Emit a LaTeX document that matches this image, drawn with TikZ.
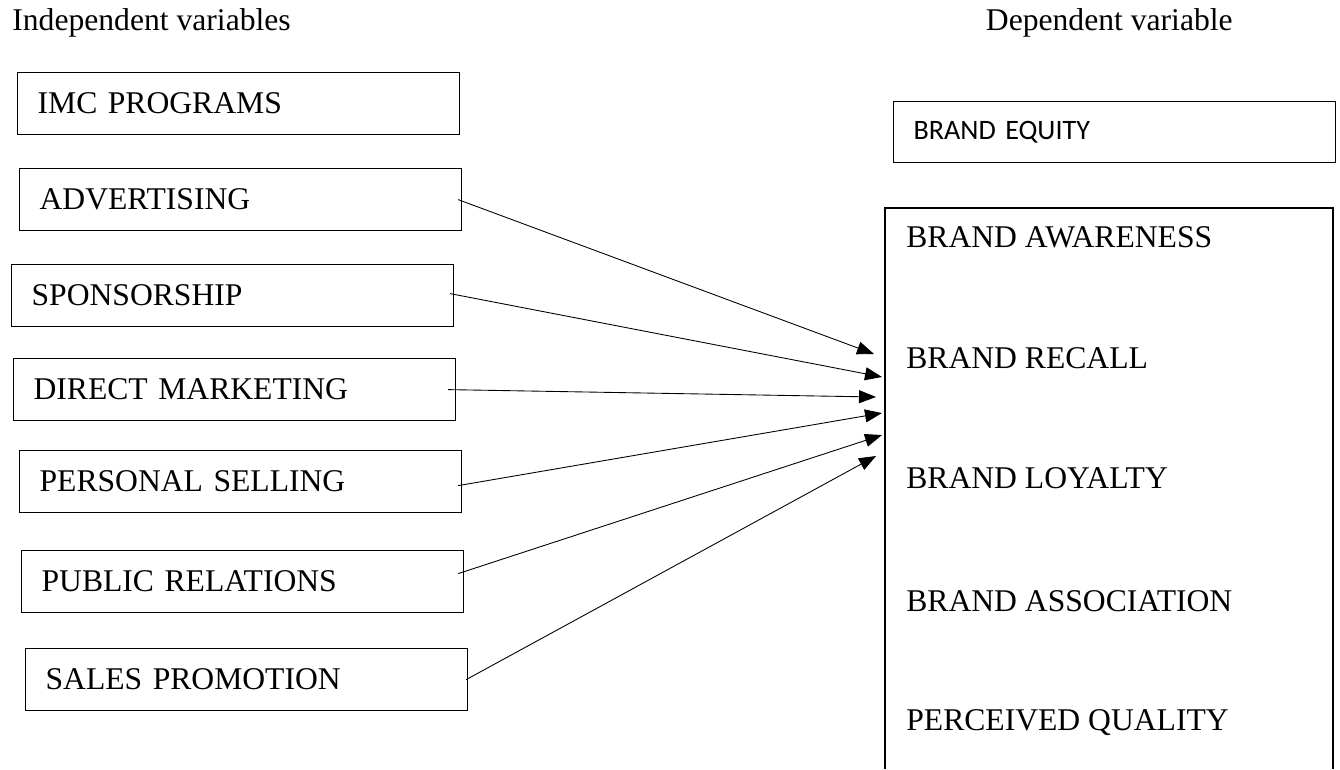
\documentclass[tikz,border=0pt]{standalone}
\usepackage{fontspec}
\setmainfont{Liberation Serif}
\newfontfamily\calibrilike{Carlito}
\usetikzlibrary{arrows.meta}

\tikzset{
  ivbox/.style={draw, line width=0.7pt, anchor=north west,
    minimum width=8.84cm, minimum height=1.24cm,
    text width=8.04cm, inner xsep=0.4cm, align=left,
    font=\fontsize{18}{21}\selectfont},
  dvitem/.style={anchor=base west, inner sep=0pt,
    font=\fontsize{18}{21}\selectfont},
  link/.style={line width=0.5pt, -{Triangle[length=3.4mm,width=2.6mm]}}
}

\begin{document}
\begin{tikzpicture}[x=0.02cm,y=-0.02cm]
\useasboundingbox (0,0) rectangle (1340,769);
%%%%%%%%%%%%%%%%%%%%%%%%%%%%%%%%
%% headings
%%%%%%%%%%%%%%%%%%%%%%%%%%%%%%%%
\node[dvitem] (indep) at (12,30) {Independent variables};
\node[dvitem, anchor=base east] (dep) at (1233,30) {Dependent variable};
%
%%%%%%%%%%%%%%%%%%%%%%%%%%%%%%%%
%% independent variables
%%%%%%%%%%%%%%%%%%%%%%%%%%%%%%%%
\node[ivbox] (imc) at (17,72)  {IMC PROGRAMS};
\node[ivbox] (adv) at (19,168) {ADVERTISING};
\node[ivbox] (spo) at (11,264) {SPONSORSHIP};
\node[ivbox] (dir) at (13,358) {DIRECT MARKETING};
\node[ivbox] (per) at (19,450) {PERSONAL SELLING};
\node[ivbox] (pub) at (21,550) {PUBLIC RELATIONS};
\node[ivbox] (sal) at (25,648) {SALES PROMOTION};
%
%%%%%%%%%%%%%%%%%%%%%%%%%%%%%%%%
%% dependent variable
%%%%%%%%%%%%%%%%%%%%%%%%%%%%%%%%
\node[ivbox, minimum height=1.22cm, font=\calibrilike\fontsize{16}{19}\selectfont]
  (equity) at (893,101) {BRAND EQUITY};

% open frame, runs off the bottom
\draw[line width=0.7pt] (885,769) -- (885,208) -- (1333,208) -- (1333,769);

\node[dvitem] (aware) at (906,247) {BRAND AWARENESS};
\node[dvitem] (recall) at (906,368) {BRAND RECALL};
\node[dvitem] (loyal) at (906,488) {BRAND LOYALTY};
\node[dvitem] (assoc) at (906,611) {BRAND ASSOCIATION};
\node[dvitem] (qual) at (906,730) {PERCEIVED QUALITY};
%
%%%%%%%%%%%%%%%%%%%%%%%%%%%%%%%%
%% arrows
%%%%%%%%%%%%%%%%%%%%%%%%%%%%%%%%
\coordinate (t1) at (874,354);
\coordinate (t2) at (882,377);
\coordinate (t3) at (876,397);
\coordinate (t4) at (882,413);
\coordinate (t5) at (882,435);
\coordinate (t6) at (876,456);

\draw[link] ([xshift=-0.08cm]adv.east) -- (t1);
\draw[link] ([xshift=-0.08cm,yshift=0.04cm]spo.east) -- (t2);
\draw[link] ([xshift=-0.16cm]dir.east) -- (t3);
\draw[link] ([xshift=-0.08cm,yshift=-0.08cm]per.east) -- (t4);
\draw[link] ([xshift=-0.12cm,yshift=0.16cm]pub.east) -- (t5);
\draw[link] ([xshift=-0.04cm]sal.east) -- (t6);
\end{tikzpicture}
\end{document}
